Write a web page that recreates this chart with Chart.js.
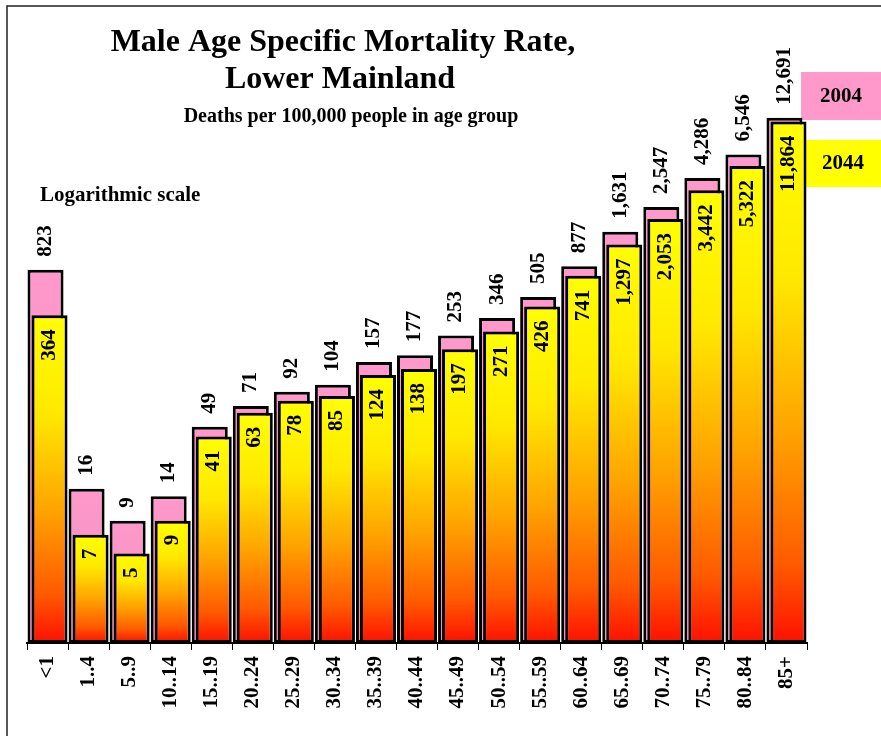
<!DOCTYPE html>
<html>
<head>
<meta charset="utf-8">
<script src="https://cdn.jsdelivr.net/npm/chart.js@4"></script>
<style>
  html, body { margin: 0; padding: 0; background: #fff; }
  #wrap { width: 881px; height: 736px; position: relative; }
</style>
</head>
<body>
<div id="wrap"><canvas id="c" width="881" height="736"></canvas></div>
<script>
const categories = ['<1', '1..4', '5..9', '10..14', '15..19', '20..24', '25..29', '30..34', '35..39', '40..44', '45..49', '50..54', '55..59', '60..64', '65..69', '70..74', '75..79', '80..84', '85+'];
const values2004 = [823, 16, 9, 14, 49, 71, 92, 104, 157, 177, 253, 346, 505, 877, 1631, 2547, 4286, 6546, 12691];
const values2044 = [364, 7, 5, 9, 41, 63, 78, 85, 124, 138, 197, 271, 426, 741, 1297, 2053, 3442, 5322, 11864];
const seriesNames = ['2004', '2044'];

const SERIF = "'Liberation Serif', 'Times New Roman', serif";
const fmt = v => v.toLocaleString('en-US');

function yellowGradient(ctx) {
  const chart = ctx.chart;
  const area = chart.chartArea;
  if (!area || ctx.raw === undefined) return '#FFFF00';
  const top = chart.scales.y.getPixelForValue(ctx.raw);
  const g = chart.ctx.createLinearGradient(0, top, 0, area.bottom);
  g.addColorStop(0, '#FFFF00');
  g.addColorStop(0.3, '#FFE800');
  g.addColorStop(0.6, '#FFA200');
  g.addColorStop(0.85, '#FF5A00');
  g.addColorStop(1, '#FF1000');
  return g;
}
function pinkGradient(ctx) {
  const chart = ctx.chart;
  const area = chart.chartArea;
  if (!area || ctx.raw === undefined) return '#FF99CC';
  const top = chart.scales.y.getPixelForValue(ctx.raw);
  const g = chart.ctx.createLinearGradient(0, top, 0, area.bottom);
  g.addColorStop(0, '#FF99CC');
  g.addColorStop(1, '#EE8CC0');
  return g;
}

const decorPlugin = {
  id: 'decor',
  beforeDraw(chart) {
    const c = chart.ctx;
    c.save();
    c.fillStyle = '#fff';
    c.fillRect(0, 0, chart.width, chart.height);
    c.strokeStyle = '#222';
    c.lineWidth = 1.5;
    c.beginPath();
    c.moveTo(7, 740);
    c.lineTo(7, 6);
    c.lineTo(881, 6);
    c.stroke();
    c.fillStyle = '#000';
    c.textBaseline = 'alphabetic';
    c.textAlign = 'center';
    c.font = 'bold 32px ' + SERIF;
    c.fillText('Male Age Specific Mortality Rate,', 343, 51);
    c.fillText('Lower Mainland', 340, 88);
    c.font = 'bold 20px ' + SERIF;
    c.fillText('Deaths per 100,000 people in age group', 351, 122);
    c.textAlign = 'left';
    c.font = 'bold 21px ' + SERIF;
    c.fillText('Logarithmic scale', 40, 201);
    c.restore();
  },
  beforeDatasetsDraw(chart) {
    const c = chart.ctx;
    c.save();
    c.fillStyle = '#FF99CC';
    c.fillRect(801, 72, 80, 48);
    c.fillStyle = '#FFFF00';
    c.fillRect(804, 140, 77, 47);
    c.fillStyle = '#000';
    c.font = 'bold 21px ' + SERIF;
    c.textAlign = 'center';
    c.textBaseline = 'middle';
    c.fillText(seriesNames[0], 841, 97);
    c.fillText(seriesNames[1], 843, 164);
    c.restore();
  },
  beforeDatasetDraw(chart, args) {
    // the 2044 bars are drawn after the 2004 bars, so they sit in front
    if (args.index === 1) return false;
  },
  afterDatasetsDraw(chart) {
    chart.getDatasetMeta(1).controller.draw();
    const c = chart.ctx;
    c.save();
    c.fillStyle = '#000';
    c.font = 'bold 21px ' + SERIF;
    c.textBaseline = 'middle';
    const m0 = chart.getDatasetMeta(0);
    m0.data.forEach((el, i) => {
      c.save();
      c.translate(el.x, el.y - 13);
      c.rotate(-Math.PI / 2);
      c.textAlign = 'left';
      c.fillText(fmt(values2004[i]), 0, 0);
      c.restore();
    });
    const m1 = chart.getDatasetMeta(1);
    m1.data.forEach((el, i) => {
      c.save();
      c.translate(el.x, el.y + 14);
      c.rotate(-Math.PI / 2);
      c.textAlign = 'right';
      c.fillText(fmt(values2044[i]), 0, 0);
      c.restore();
    });
    c.restore();
  }
};

new Chart(document.getElementById('c'), {
  type: 'bar',
  data: {
    labels: categories,
    datasets: [
      {
        label: seriesNames[0],
        data: values2004,
        backgroundColor: pinkGradient,
        borderColor: '#000',
        borderWidth: 3,
        borderSkipped: false,
        categoryPercentage: 0.195,
        barPercentage: 9
      },
      {
        label: seriesNames[1],
        data: values2044,
        backgroundColor: yellowGradient,
        borderColor: '#000',
        borderWidth: 3,
        borderSkipped: false,
        categoryPercentage: 0.195,
        barPercentage: 9
      }
    ]
  },
  options: {
    responsive: false,
    animation: false,
    devicePixelRatio: 1,
    layout: { padding: { left: 27, right: 74, top: 3, bottom: 0 } },
    plugins: {
      legend: { display: false },
      title: { display: false },
      tooltip: { enabled: false }
    },
    scales: {
      y: {
        type: 'logarithmic',
        min: 1,
        max: 100000,
        display: false
      },
      x: {
        offset: true,
        border: { display: true, color: '#000', width: 2 },
        grid: {
          display: true,
          offset: true,
          drawOnChartArea: false,
          drawTicks: true,
          tickLength: 7,
          color: '#000',
          lineWidth: 1
        },
        ticks: {
          color: '#000',
          font: { family: SERIF, size: 21, weight: 'bold' },
          minRotation: 90,
          maxRotation: 90,
          padding: 6,
          autoSkip: false
        },
        afterFit(scale) { scale.height = 93; }
      }
    }
  },
  plugins: [decorPlugin]
});
</script>
</body>
</html>
